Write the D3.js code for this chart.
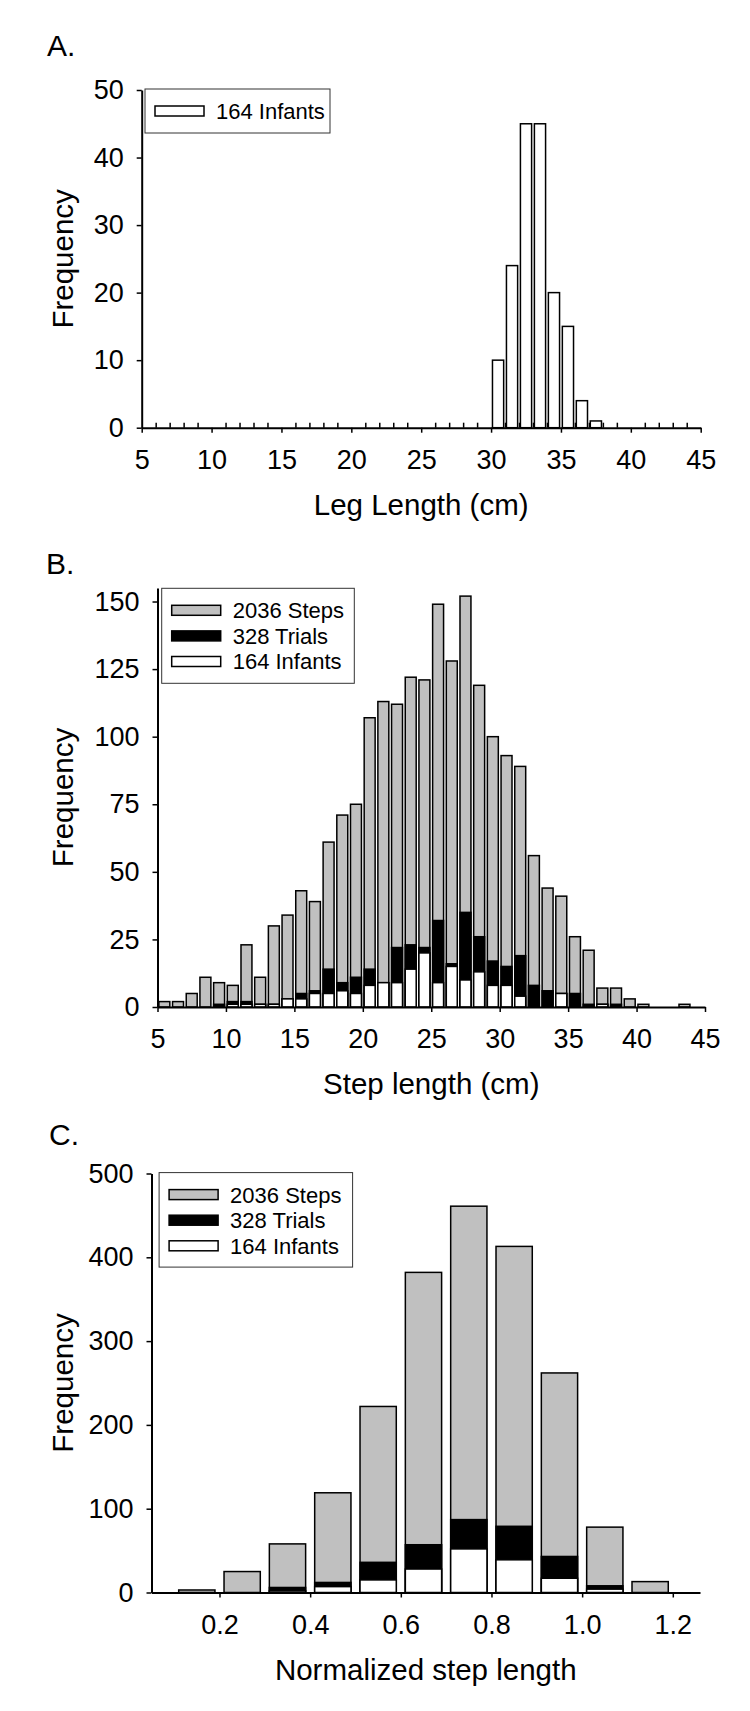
<!DOCTYPE html>
<html>
<head>
<meta charset="utf-8">
<script src="https://cdn.jsdelivr.net/npm/d3@7"></script>
<style>
  html, body { margin: 0; padding: 0; background: #fff; }
  svg { display: block; }
  text { font-family: "Liberation Sans", Arial, sans-serif; fill: #000; }
</style>
</head>
<body>
<script>
// ---------- Panel A: leg length ----------
const legBinStarts = [30, 31, 32, 33, 34, 35, 36, 37];
const legInfants   = [10, 24, 45, 45, 20, 15, 4, 1];
const legXTicks = [5, 10, 15, 20, 25, 30, 35, 40, 45];
const legXMinor = [6,7,8,9,11,12,13,14,16,17,18,19,21,22,23,24,26,27,28,29,31,32,33,34,36,37,38,39,41,42,43,44];
const legYTicks = [0, 10, 20, 30, 40, 50];

// ---------- Panel B: step length ----------
const stepBinStarts = [5,6,7,8,9,10,11,12,13,14,15,16,17,18,19,20,21,22,23,24,25,26,27,28,29,30,31,32,33,34,35,36,37,38,39,40,41,42,43];
const stepSteps   = [2,2,5,11,9,8,23,11,30,34,43,39,61,71,75,107,113,112,122,121,149,128,152,119,100,93,89,56,44,41,26,21,7,7,3,1,0,0,1];
const stepTrials  = [0,0,0,0,1,2,2,1,1,3,5,6,14,9,11,14,9,22,23,22,32,16,35,26,17,15,19,8,6,5,5,1,1,1,0,0,0,0,0];
const stepInfants = [0,0,0,0,0,1,1,1,1,3,3,5,5,6,5,8,9,9,14,20,9,15,10,13,8,8,4,0,0,5,0,0,1,0,0,0,0,0,0];
const stepXTicks = [5, 10, 15, 20, 25, 30, 35, 40, 45];
const stepYTicks = [0, 25, 50, 75, 100, 125, 150];

// ---------- Panel C: normalized step length ----------
const normBinStarts = [0.1, 0.2, 0.3, 0.4, 0.5, 0.6, 0.7, 0.8, 0.9, 1.0, 1.1];
const normSteps   = [3, 25, 58, 119, 222, 382, 461, 413, 262, 78, 13];
const normTrials  = [0, 0, 6, 12, 36, 57, 87, 79, 43, 8, 0];
const normInfants = [0, 0, 2, 7, 15, 28, 52, 39, 17, 4, 0];
const normXTicks = [0.2, 0.4, 0.6, 0.8, 1.0, 1.2];
const normYTicks = [0, 100, 200, 300, 400, 500];

const seriesLabels = ["2036 Steps", "328 Trials", "164 Infants"];
const seriesFill = ["#c0c0c0", "#000000", "#ffffff"];

const svg = d3.select("body").append("svg")
  .attr("width", 750).attr("height", 1711);
svg.append("rect").attr("width", 750).attr("height", 1711).attr("fill", "#fff");

function drawPanel(cfg) {
  const g = svg.append("g");
  const x = d3.scaleLinear().domain(cfg.xDomain).range(cfg.xRange);
  const y = d3.scaleLinear().domain(cfg.yDomain).range(cfg.yRange);

  // bars (back to front)
  cfg.series.forEach((s) => {
    const data = cfg.bins.map((b, i) => ({ b, v: s.values[i] })).filter(d => d.v > 0);
    g.append("g").selectAll("rect").data(data).join("rect")
      .attr("x", d => x(d.b + 0.1 * cfg.binWidth))
      .attr("width", d => x(d.b + 0.9 * cfg.binWidth) - x(d.b + 0.1 * cfg.binWidth))
      .attr("y", d => y(d.v))
      .attr("height", d => y(0) - y(d.v))
      .attr("fill", s.fill)
      .attr("stroke", "#000")
      .attr("stroke-width", 1.5);
  });

  // minor ticks (upward)
  if (cfg.xMinor) {
    const minor = g.append("g").attr("transform", `translate(0,${cfg.yRange[0]})`)
      .call(d3.axisBottom(x).tickValues(cfg.xMinor).tickSize(-5).tickSizeOuter(0).tickFormat(""));
    minor.select(".domain").remove();
    minor.selectAll("line").attr("stroke-width", 1.5);
  }

  const xa = g.append("g").attr("transform", `translate(0,${cfg.yRange[0]})`)
    .call(d3.axisBottom(x).tickValues(cfg.xTicks).tickSize(5).tickSizeOuter(0)
      .tickPadding(17).tickFormat(cfg.xFormat || d3.format("d")));
  const ya = g.append("g").attr("transform", `translate(${cfg.xRange[0]},0)`)
    .call(d3.axisLeft(y).tickValues(cfg.yTicks).tickSize(5).tickSizeOuter(0)
      .tickPadding(13).tickFormat(d3.format("d")));
  [xa, ya].forEach(a => {
    a.select(".domain").attr("stroke-width", 2);
    a.selectAll(".tick line").attr("stroke-width", 1.5);
    a.selectAll("text").style("font-size", "27px").attr("font-family", null);
  });

  // axis titles
  const cx = (cfg.xRange[0] + cfg.xRange[1]) / 2;
  const cy = (cfg.yRange[0] + cfg.yRange[1]) / 2;
  g.append("text").attr("x", cx).attr("y", cfg.yRange[0] + 87)
    .attr("text-anchor", "middle").style("font-size", "29.5px").text(cfg.xTitle);
  g.append("text").attr("transform", `translate(73,${cy}) rotate(-90)`)
    .attr("text-anchor", "middle").style("font-size", "29.5px").text("Frequency");

  // panel label
  g.append("text").attr("x", cfg.label.x).attr("y", cfg.label.y)
    .style("font-size", "30px").text(cfg.label.t);

  // legend
  const L = cfg.legend;
  g.append("rect").attr("x", L.x).attr("y", L.y).attr("width", L.w).attr("height", L.h)
    .attr("fill", "#fff").attr("stroke", "#333").attr("stroke-width", 1);
  cfg.series.forEach((s, i) => {
    const ry = L.y + 22 + i * 25.6;
    g.append("rect").attr("x", L.x + 10).attr("y", ry - 5).attr("width", 49).attr("height", 10)
      .attr("fill", s.fill).attr("stroke", "#000").attr("stroke-width", 1.5);
    g.append("text").attr("x", L.x + 71).attr("y", ry).attr("dy", "0.36em")
      .style("font-size", "22px").text(s.label);
  });
}

drawPanel({
  xDomain: [5, 45], xRange: [141.7, 700.7],
  yDomain: [0, 50], yRange: [427.7, 90],
  bins: legBinStarts, binWidth: 1,
  series: [{ values: legInfants, fill: seriesFill[2], label: seriesLabels[2] }],
  xTicks: legXTicks, xMinor: legXMinor, yTicks: legYTicks,
  xTitle: "Leg Length (cm)",
  label: { t: "A.", x: 47, y: 56 },
  legend: { x: 145, y: 89, w: 185, h: 44 }
});

drawPanel({
  xDomain: [5, 45], xRange: [157.5, 705],
  yDomain: [0, 155], yRange: [1007, 588],
  bins: stepBinStarts, binWidth: 1,
  series: [
    { values: stepSteps, fill: seriesFill[0], label: seriesLabels[0] },
    { values: stepTrials, fill: seriesFill[1], label: seriesLabels[1] },
    { values: stepInfants, fill: seriesFill[2], label: seriesLabels[2] }
  ],
  xTicks: stepXTicks, yTicks: stepYTicks,
  xTitle: "Step length (cm)",
  label: { t: "B.", x: 46, y: 574 },
  legend: { x: 161.7, y: 588.3, w: 192.6, h: 95 }
});

drawPanel({
  xDomain: [0.05, 1.26], xRange: [151.5, 700],
  yDomain: [0, 500], yRange: [1592.5, 1173.5],
  bins: normBinStarts, binWidth: 0.1,
  series: [
    { values: normSteps, fill: seriesFill[0], label: seriesLabels[0] },
    { values: normTrials, fill: seriesFill[1], label: seriesLabels[1] },
    { values: normInfants, fill: seriesFill[2], label: seriesLabels[2] }
  ],
  xTicks: normXTicks, xFormat: d3.format(".1f"), yTicks: normYTicks,
  xTitle: "Normalized step length",
  label: { t: "C.", x: 49, y: 1145 },
  legend: { x: 159.1, y: 1172.6, w: 193.5, h: 94.5 }
});
</script>
</body>
</html>
